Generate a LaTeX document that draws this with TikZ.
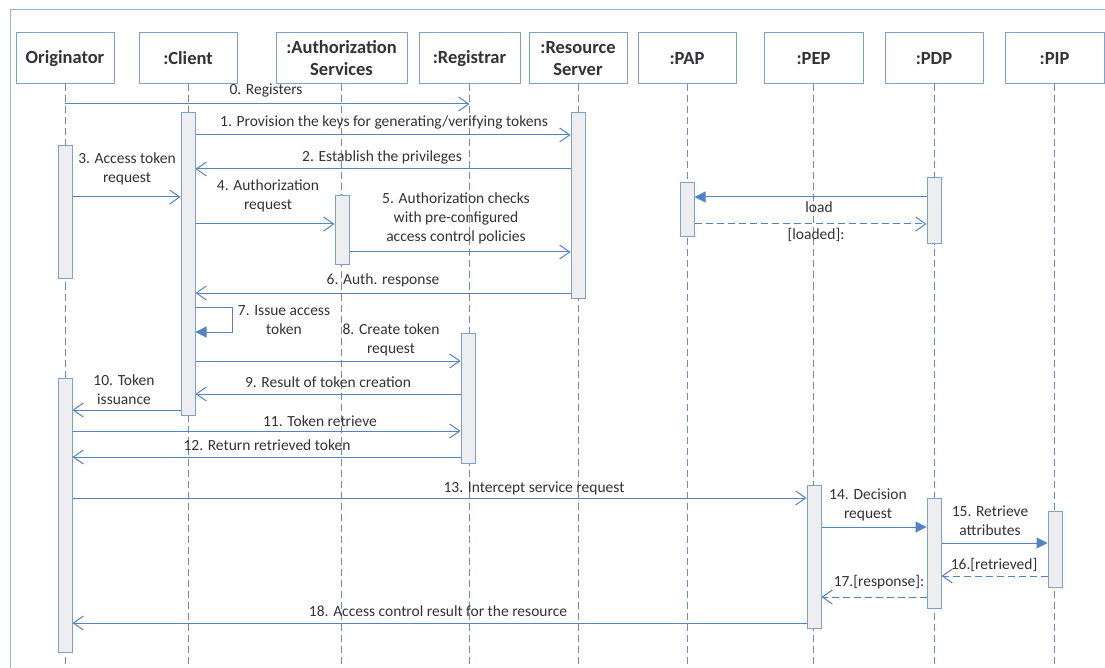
\documentclass[tikz,border=0pt]{standalone}
\usepackage{fontspec}
\setmainfont{Carlito}
\usetikzlibrary{arrows.meta}
\definecolor{msgblue}{RGB}{84,130,196}
\definecolor{boxblue}{RGB}{125,160,205}
\definecolor{lifeblue}{RGB}{110,140,180}
\definecolor{frameblue}{RGB}{150,180,220}
\definecolor{actfill}{RGB}{238,238,240}
\definecolor{txt}{RGB}{50,50,55}
\begin{document}
\begin{tikzpicture}[x=1pt,y=-1pt,
  head/.style={draw=boxblue, line width=1pt, fill=white, minimum height=51pt, inner sep=0pt,
    font=\fontsize{18.5}{22}\selectfont\bfseries, text=txt, align=center},
  life/.style={draw=lifeblue, line width=0.8pt, dash pattern=on 7pt off 4pt},
  act/.style={draw=boxblue, fill=actfill, line width=1pt, minimum width=14pt, inner sep=0pt},
  msg/.style={draw=msgblue, line width=1pt, -{Straight Barb[length=10pt,width=14pt]}},
  reply/.style={msg, dash pattern=on 7pt off 4pt},
  call/.style={draw=msgblue, line width=1pt, -{Triangle[length=11pt,width=11pt]}},
  lbl/.style={font=\fontsize{15.5}{19}\selectfont, text=txt, align=center, inner sep=0pt}]

\useasboundingbox (0,0) rectangle (1105,668);
\fill[white] (0,0) rectangle (1105,668);

% outer frame (top and left edges)
\draw[frameblue, line width=1pt] (10,668) -- (10,10) -- (1105,10);

% participants
\node[head, minimum width=98pt]  (hO)   at (65,58.5)    {Originator};
\node[head, minimum width=98pt]  (hC)   at (188,58.5)   {:Client};
\node[head, minimum width=131pt] (hA)   at (341.5,58.5) {:Authorization\\Services};
\node[head, minimum width=101pt] (hReg) at (469.5,58.5) {:Registrar};
\node[head, minimum width=98pt]  (hRS)  at (578,58.5)   {:Resource\\Server};
\node[head, minimum width=98pt]  (hPAP) at (687,58.5)   {:PAP};
\node[head, minimum width=99pt]  (hPEP) at (813.5,58.5) {:PEP};
\node[head, minimum width=98pt]  (hPDP) at (934,58.5)   {:PDP};
\node[head, minimum width=99pt]  (hPIP) at (1054.5,58.5){:PIP};

% lifelines
\foreach \h in {hO,hC,hA,hReg,hRS,hPAP,hPEP,hPDP,hPIP}
  \draw[life] (\h.south) -- (\h.south |- 0,668);

% activation bars
\node[act, minimum height=302pt] (aC)    at (188,264)   {};
\node[act, minimum height=185pt] (aRS)   at (578,205.5) {};
\node[act, minimum height=132pt] (aO1)   at (65,212)    {};
\node[act, minimum height=69pt]  (aA)    at (342,230.5) {};
\node[act, minimum height=54pt]  (aPAP)  at (687,210)   {};
\node[act, minimum height=66pt]  (aPDP1) at (934,211)   {};
\node[act, minimum height=130pt] (aReg)  at (468,398)   {};
\node[act, minimum height=274pt] (aO2)   at (65,515)    {};
\node[act, minimum height=143pt] (aPEP)  at (814,556.5) {};
\node[act, minimum height=110pt] (aPDP2) at (934,553)   {};
\node[act, minimum height=76pt]  (aPIP)  at (1055,549)  {};

% messages
\draw[msg] (hO.south |- 0,104) -- (hReg.south |- 0,104);
\node[lbl] at (266,91) {0. Registers};

\draw[msg] (aC.east |- 0,135) -- (aRS.west |- 0,135);
\node[lbl] at (384,122) {1. Provision the keys for generating/verifying tokens};

\draw[msg] (aRS.west |- 0,169) -- (aC.east |- 0,169);
\node[lbl] at (382,157) {2. Establish the privileges};

\draw[msg] (aO1.east |- 0,197) -- (aC.west |- 0,197);
\node[lbl] at (127,169) {3. Access token\\request};

\draw[msg] (aC.east |- 0,224) -- (aA.west |- 0,224);
\node[lbl] at (268,196) {4. Authorization\\request};

\draw[msg] (aA.east |- 0,252) -- (aRS.west |- 0,252);
\node[lbl] at (456,218.5) {5. Authorization checks\\with pre-configured\\access control policies};

\draw[msg] (aRS.west |- 0,293) -- (aC.east |- 0,293);
\node[lbl] at (383,280) {6. Auth. response};

\draw[call] (aPDP1.west |- 0,197) -- (aPAP.east |- 0,197);
\node[lbl] at (819,207) {load};

\draw[reply] (aPAP.east |- 0,224) -- (aPDP1.west |- 0,224);
\node[lbl] at (816,235) {[loaded]:};

\coordinate (loopA) at (232,307);
\coordinate (loopB) at (232,332);
\draw[call] (aC.east |- loopA) -- (loopA) -- (loopB) -- (aC.east |- loopB);
\node[lbl] at (284,320) {7. Issue access\\token};

\draw[msg] (aC.east |- 0,361) -- (aReg.west |- 0,361);
\node[lbl] at (391,340) {8. Create token\\request};

\draw[msg] (aReg.west |- 0,394) -- (aC.east |- 0,394);
\node[lbl] at (328,382) {9. Result of token creation};

\draw[msg] (aC.west |- 0,410) -- (aO2.east |- 0,410);
\node[lbl] at (124,390) {10. Token\\issuance};

\draw[msg] (aO2.east |- 0,431) -- (aReg.west |- 0,431);
\node[lbl] at (320,421) {11. Token retrieve};

\draw[msg] (aReg.west |- 0,457) -- (aO2.east |- 0,457);
\node[lbl] at (267,445) {12. Return retrieved token};

\draw[msg] (aO2.east |- 0,498) -- (aPEP.west |- 0,498);
\node[lbl] at (534,488) {13. Intercept service request};

\draw[call] (aPEP.east |- 0,527) -- (aPDP2.west |- 0,527);
\node[lbl] at (868,505) {14. Decision\\request};

\draw[call] (aPDP2.east |- 0,543) -- (aPIP.west |- 0,543);
\node[lbl] at (990,521) {15. Retrieve\\attributes};

\draw[reply] (aPIP.west |- 0,576) -- (aPDP2.east |- 0,576);
\node[lbl] at (994,565) {16.[retrieved]};

\draw[reply] (aPDP2.west |- 0,597) -- (aPEP.east |- 0,597);
\node[lbl] at (879,582) {17.[response]:};

\draw[msg] (aPEP.west |- 0,623) -- (aO2.east |- 0,623);
\node[lbl] at (438,611) {18. Access control result for the resource};

\end{tikzpicture}
\end{document}
